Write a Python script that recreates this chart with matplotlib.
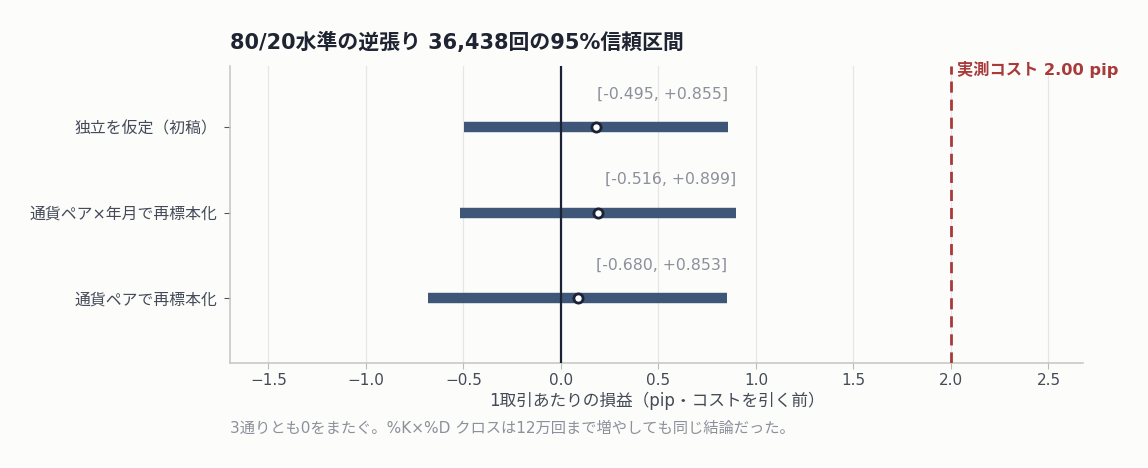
import matplotlib
matplotlib.use("Agg")
import matplotlib.pyplot as plt
import numpy as np

plt.rcParams['font.family'] = ['DejaVu Sans', 'Noto Sans CJK JP']

categories = ["独立を仮定（初稿）", "通貨ペア×年月で再標本化", "通貨ペアで再標本化"]
lows = [-0.495, -0.516, -0.680]
highs = [0.855, 0.899, 0.853]
means = [0.180, 0.1915, 0.0865]
cost = 2.00

bg = '#fcfcfa'
bar_color = '#3e5677'
dark = '#1b2235'
red = '#a83a3a'
grey_txt = '#8c909b'

fig = plt.figure(figsize=(11.48, 4.68), dpi=100, facecolor=bg)
ax = fig.add_axes([230/1148, 1-363/468, (1083-230)/1148, (363-66)/468], facecolor=bg)

y = np.arange(len(categories))
for yi, lo, hi, m in zip(y, lows, highs, means):
    ax.plot([lo, hi], [yi, yi], color=bar_color, lw=7.5, solid_capstyle='butt', zorder=3)
    ax.plot([m], [yi], 'o', ms=6.6, mfc='white', mec=dark, mew=2.0, zorder=5)
    ax.text(hi, yi - 0.39, f"[{lo:.3f}, +{hi:.3f}]", ha='right', va='center',
            fontsize=11.3, color=grey_txt)

ax.axvline(0, color=dark, lw=1.6, zorder=4)
ax.axvline(cost, color=red, lw=2, ls=(0, (4, 2.5)), zorder=4)
ax.text(cost + 0.03, -0.68, f"実測コスト {cost:.2f} pip", color=red, fontsize=11.7,
        fontweight='bold', ha='left', va='center')

ax.set_xlim(-1.697, 2.677)
ax.set_ylim(2.76, -0.72)
ax.set_yticks(y)
ax.set_yticklabels(categories, fontsize=11.4, color='#444a58')
ax.set_xticks([-1.5, -1.0, -0.5, 0.0, 0.5, 1.0, 1.5, 2.0, 2.5])
ax.set_xticklabels(["−1.5", "−1.0", "−0.5", "0.0", "0.5", "1.0", "1.5", "2.0", "2.5"],
                   fontsize=11, color='#444a58')
ax.tick_params(axis='x', length=4, color='#bbbbbb', pad=3)
ax.tick_params(axis='y', length=4, color='#555555', pad=5)
ax.grid(axis='x', color='#e6e6e6', lw=0.9, zorder=0)
ax.set_axisbelow(True)
for s in ['top', 'right']:
    ax.spines[s].set_visible(False)
for s in ['left', 'bottom']:
    ax.spines[s].set_color('#c4c4c4')
    ax.spines[s].set_linewidth(1.1)

ax.set_xlabel("1取引あたりの損益（pip・コストを引く前）", fontsize=12, color='#444a58', labelpad=3)

fig.text(230/1148, 1-42/468, "80/20水準の逆張り 36,438回の95%信頼区間", fontsize=15,
         fontweight='bold', color='#1f2433', ha='left', va='center')
fig.text(230/1148, 1-428/468, "3通りとも0をまたぐ。%K×%D クロスは12万回まで増やしても同じ結論だった。",
         fontsize=11, color=grey_txt, ha='left', va='center')

fig.savefig("out.png", dpi=100, facecolor=bg)
